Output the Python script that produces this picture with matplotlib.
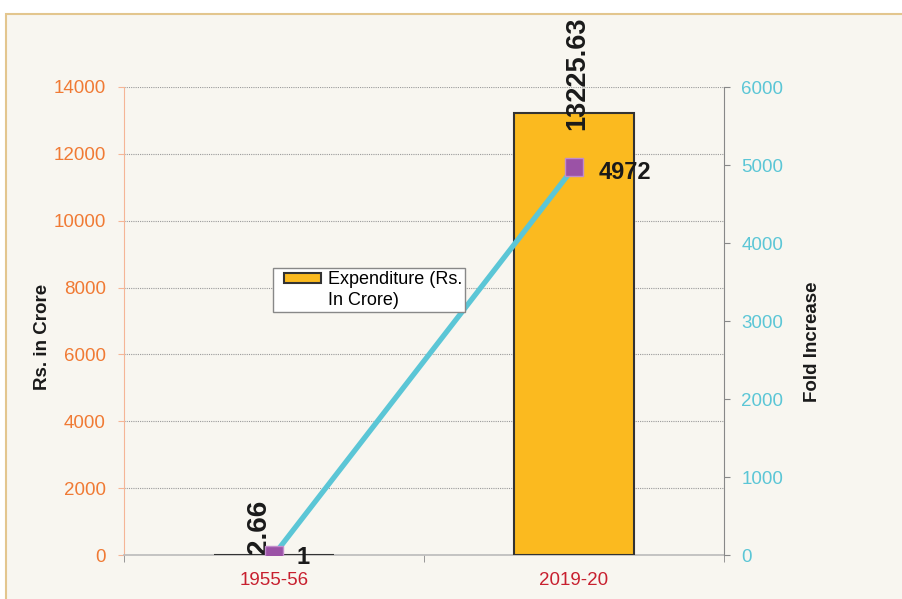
import numpy as np
import matplotlib.pyplot as plt
from matplotlib.patches import Rectangle
from matplotlib.legend_handler import HandlerPatch

plt.rcParams['font.family'] = ['Liberation Sans', 'DejaVu Sans']

# DATA
years = ['1955-56', '2019-20']
expenditure = [2.66, 13225.63]
fold_increase = [1, 4972]
exp_labels = ['2.66', '13225.63']
fold_labels = ['1', '4972']
legend_label = 'Expenditure (Rs.\nIn Crore)'

# COLOURS
bar_col = '#FBBA1F'
line_col = '#5BC6D6'
mark_col = '#9B52A6'
left_col = '#F07A34'
right_col = '#5BC6D6'
xlab_col = '#C8202F'


def legend_patch(legend, orig_handle, xdescent, ydescent, width, height, fontsize):
    # swatch sits next to the first text line, not centred on both
    return Rectangle((-xdescent + 5.8, -ydescent + 8.6), 27.3, height)


fig = plt.figure(figsize=(9.02, 5.99), dpi=100, facecolor='white')

# cream panel with tan border
panel = Rectangle((6/902, -0.01), 1.0, 1 - 14/599 + 0.01, transform=fig.transFigure,
                  facecolor='#F8F6F0', edgecolor='#E3C68E', linewidth=1.5, zorder=-10)
fig.patches.append(panel)

ax = fig.add_axes([124/902, 1 - 555/599, 600/902, 468/599])
ax.patch.set_alpha(0)
x = np.arange(len(years))

## BARS ##
bars = ax.bar(x, expenditure, width=0.4, color=bar_col, edgecolor='#333333',
              linewidth=1.5, zorder=3)
ax.set_xlim(-0.5, 1.5)
ax.set_ylim(0, 14000)
ax.set_yticks(np.arange(0, 14001, 2000))
ax.yaxis.grid(True, linestyle=(0, (1, 1)), color='#9A9A9A', linewidth=0.8, zorder=1)
ax.set_axisbelow(True)

# bar value labels
ax.annotate(exp_labels[0], (x[0], expenditure[0]), xytext=(-11, 1), textcoords='offset points',
            rotation=90, ha='center', va='bottom', fontsize=20, fontweight='bold', color='#1a1a1a',
            zorder=6)
ax.annotate(exp_labels[1], (x[1], expenditure[1]), xytext=(2, -12), textcoords='offset points',
            rotation=90, ha='center', va='bottom', fontsize=19.5, fontweight='bold', color='#1a1a1a',
            zorder=6)

# axis styling
for s in ['top', 'right']:
    ax.spines[s].set_visible(False)
ax.spines['left'].set_color('#F5B596')
ax.spines['bottom'].set_color('#BBBBBB')
ax.spines['bottom'].set_linewidth(1.2)
ax.tick_params(axis='y', colors='#F5B596', labelcolor=left_col, labelsize=13.5,
               length=4.5, pad=8.5)
ax.set_xticks(x)
ax.set_xticklabels(years)
ax.set_xticks([-0.5, 0.5, 1.5], minor=True)
ax.tick_params(axis='x', which='major', length=0, labelcolor=xlab_col, labelsize=13.5, pad=12)
ax.tick_params(axis='x', which='minor', length=5, color='#888888')
ax.set_ylabel('Rs. in Crore', fontsize=13.5, fontweight='bold', color='#1a1a1a')
ax.yaxis.set_label_coords(-0.122, 0.466)

## LINE ##
ax2 = ax.twinx()
ax2.plot(x, fold_increase, color=line_col, linewidth=3.8, marker='s', markersize=13,
         markerfacecolor=mark_col, markeredgecolor='#C28DCB', markeredgewidth=1, zorder=5)
ax2.set_ylim(0, 6000)
ax2.set_yticks(np.arange(0, 6001, 1000))
for s in ['top', 'left', 'bottom']:
    ax2.spines[s].set_visible(False)
ax2.spines['right'].set_color('#888888')
ax2.tick_params(axis='y', colors='#888888', labelcolor=right_col, labelsize=13.5,
                length=4.5, pad=8)
ax2.set_ylabel('Fold Increase', fontsize=13.5, fontweight='bold', color='#1a1a1a')
ax2.yaxis.set_label_coords(1.133, 0.455)

ax2.annotate(fold_labels[0], (x[0], fold_increase[0]), xytext=(16, -2), textcoords='offset points',
             ha='left', va='center', fontsize=17, fontweight='bold', color='#1a1a1a', zorder=6)
ax2.annotate(fold_labels[1], (x[1], fold_increase[1]), xytext=(18, -4), textcoords='offset points',
             ha='left', va='center', fontsize=17, fontweight='bold', color='#1a1a1a', zorder=6)

## LEGEND ##
leg = ax2.legend(handles=[bars.patches[0]], labels=[legend_label], loc='upper left',
                 bbox_to_anchor=(0.248, 0.613), borderaxespad=0, fontsize=13, fancybox=False,
                 framealpha=1, edgecolor='#888888', handlelength=2.69, handleheight=0.5,
                 handletextpad=0.2, borderpad=0.15,
                 handler_map={Rectangle: HandlerPatch(patch_func=legend_patch)})
leg.get_frame().set_linewidth(1.0)
leg.get_texts()[0].set_linespacing(1.35)

fig.savefig('out.png', dpi=100, facecolor='white')
